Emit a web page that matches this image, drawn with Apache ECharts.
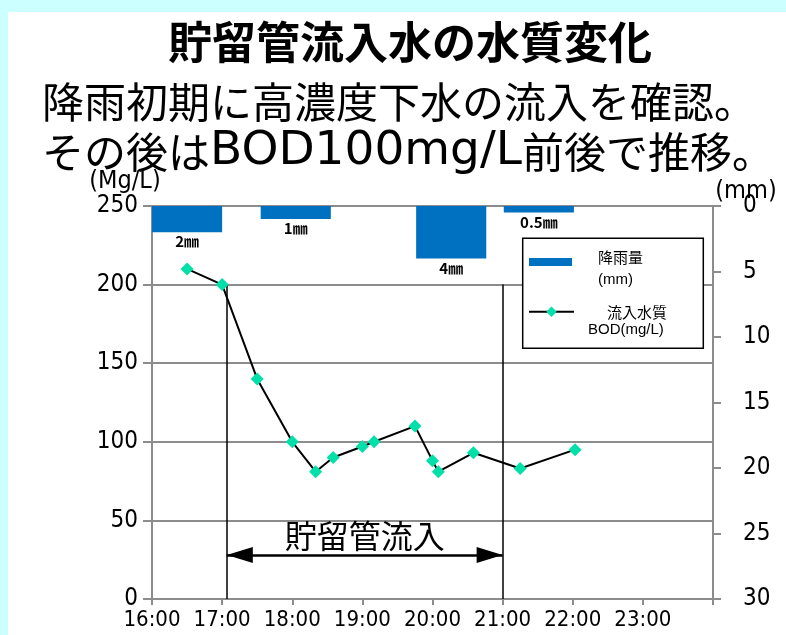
<!DOCTYPE html>
<html>
<head>
<meta charset="utf-8">
<script src="https://cdn.jsdelivr.net/npm/echarts@6/dist/echarts.min.js"></script>
<style>
  html, body { margin: 0; padding: 0; background: #fff; }
  #chart { width: 786px; height: 635px; }
</style>
</head>
<body>
<div id="chart"></div>
<script>
// Hour tick labels of the time axis (16:00 .. 23:00)
const timeTicks = ['16:00', '17:00', '18:00', '19:00', '20:00', '21:00', '22:00', '23:00'];

// Rainfall per hour block (centre time of each block, mm)
const rainTimes = ['16:30', '18:03', '20:16', '21:31'];
const rainMm = [2, 1, 4, 0.5];
const rainLabels = ['2㎜', '1㎜', '4㎜', '0.5㎜'];

// Inflow water quality, BOD (mg/L)
const bodTimes = ['16:30', '17:00', '17:30', '18:00', '18:20', '18:35', '19:00',
                  '19:10', '19:45', '20:00', '20:05', '20:35', '21:15', '22:02'];
const bodValues = [210, 200, 140, 100, 81, 90, 97, 100, 110, 88, 81, 93, 83, 95];

// Period during which water flowed into the storage pipe
const inflowPeriod = ['17:04', '21:00'];
const inflowLabel = '貯留管流入';

const toHours = t => { const [h, m] = t.split(':').map(Number); return h + m / 60; };

const CJK = "'Noto Sans CJK JP', sans-serif";
const NUM = "'DejaVu Sans Condensed', 'DejaVu Sans', sans-serif";
const LAT = "'Liberation Sans', Arial, sans-serif";
const GREY = '#8c8c8c';
const BLUE = '#0070c0';

const rainData = rainTimes.map((t, i) => [toHours(t), rainMm[i]]);
const bodData = bodTimes.map((t, i) => [toHours(t), bodValues[i]]);
const tStart = toHours(inflowPeriod[0]);
const tEnd = toHours(inflowPeriod[1]);

const chart = echarts.init(document.getElementById('chart'));

const option = {
  backgroundColor: '#fff',
  animation: false,
  textStyle: { fontFamily: NUM },
  title: [
    {
      text: '貯留管流入水の水質変化',
      left: 168, top: 20, padding: 0,
      textStyle: { fontFamily: CJK, fontSize: 44, fontWeight: 'bold', lineHeight: 44, color: '#000' }
    },
    {
      text: '降雨初期に高濃度下水の流入を確認。\nその後は{l|BOD100mg/L}前後で推移。',
      left: 42, top: 77, padding: 0,
      textStyle: {
        fontFamily: CJK, fontSize: 42, fontWeight: 'normal', lineHeight: 50, color: '#000',
        rich: { l: { fontFamily: "'DejaVu Sans', sans-serif", fontSize: 47, lineHeight: 50, color: '#000' } }
      }
    }
  ],
  grid: { left: 152, right: 73, top: 206, bottom: 36 },
  xAxis: {
    type: 'value', min: 16, max: 24, interval: 1,
    axisLine: { lineStyle: { color: GREY, width: 2 } },
    axisTick: { show: true, length: 6, lineStyle: { color: GREY, width: 2 } },
    splitLine: { show: false },
    axisLabel: {
      color: '#000', fontSize: 22, margin: 10, fontFamily: NUM,
      formatter: v => timeTicks[Math.round(v) - 16] || ''
    }
  },
  yAxis: [
    {
      type: 'value', min: 0, max: 250, interval: 50,
      name: '(Mg/L)', nameLocation: 'end', nameGap: 10,
      nameTextStyle: { color: '#000', fontSize: 25, fontFamily: NUM, padding: [0, 54, 0, 0] },
      axisLine: { show: true, lineStyle: { color: GREY, width: 2 } },
      axisTick: { show: true, length: 9, lineStyle: { color: GREY, width: 2 } },
      splitLine: { show: true, lineStyle: { color: GREY, width: 2 } },
      axisLabel: { color: '#000', fontSize: 24, margin: 14, fontFamily: NUM }
    },
    {
      type: 'value', position: 'right', min: 0, max: 30, interval: 5, inverse: true,
      name: '(mm)', nameLocation: 'start', nameGap: 15, nameMoveOverlap: false,
      nameTextStyle: { color: '#000', fontSize: 25, fontFamily: NUM, verticalAlign: 'middle',
                       padding: [0, 0, 0, 66] },
      axisLine: { show: true, lineStyle: { color: GREY, width: 2 } },
      axisTick: { show: true, length: 8, lineStyle: { color: GREY, width: 2 } },
      splitLine: { show: false },
      axisLabel: { color: '#000', fontSize: 24, margin: 30, fontFamily: NUM }
    }
  ],
  legend: [
    {
      data: [{ name: '降雨量', icon: 'rect' }],
      left: 529, top: 249.5, padding: 0, itemWidth: 43, itemHeight: 8,
      selectedMode: false, z: 6,
      formatter: name => '{a|' + name + '}\n{b|(mm)}',
      textStyle: {
        padding: [13, 0, 0, 0],
        rich: {
          a: { fontFamily: CJK, fontSize: 15, lineHeight: 23, align: 'left', padding: [0, 0, 0, 21], color: '#000' },
          b: { fontFamily: LAT, fontSize: 15, lineHeight: 23, align: 'left', padding: [0, 0, 0, 21], color: '#000' }
        }
      }
    },
    {
      data: [{ name: '流入水質' }],
      left: 528, top: 304.3, padding: 0, itemWidth: 45, itemHeight: 13,
      selectedMode: false, z: 6,
      formatter: name => '{a|' + name + '}\n{b|BOD(mg/L)}',
      textStyle: {
        padding: [18, 0, 0, 0],
        rich: {
          a: { fontFamily: CJK, fontSize: 15, lineHeight: 18, align: 'left', padding: [0, 0, 0, 28], color: '#000' },
          b: { fontFamily: LAT, fontSize: 15, lineHeight: 18, align: 'left', padding: [0, 0, 0, 9], color: '#000' }
        }
      }
    }
  ],
  graphic: [
    // light cyan frame along the top and left edges
    { type: 'rect', z: 10, shape: { x: 0, y: 0, width: 786, height: 12 }, style: { fill: '#ccffff' } },
    { type: 'rect', z: 10, shape: { x: 0, y: 0, width: 8, height: 635 }, style: { fill: '#ccffff' } },
    // legend frame
    { type: 'rect', z: 3, shape: { x: 522.7, y: 238.3, width: 180.6, height: 110 },
      style: { fill: '#fff', stroke: '#000', lineWidth: 1.5 } }
  ],
  series: [
    {
      name: '降雨量', type: 'custom', yAxisIndex: 1,
      itemStyle: { color: BLUE },
      data: rainData,
      encode: { x: 0, y: 1 },
      renderItem: (params, api) => {
        const c = api.value(0), v = api.value(1);
        const a = api.coord([c - 0.5, 0]);
        const b = api.coord([c + 0.5, v]);
        return {
          type: 'group',
          children: [
            { type: 'rect', shape: { x: a[0], y: a[1], width: b[0] - a[0], height: b[1] - a[1] },
              style: { fill: BLUE } },
            { type: 'text',
              style: { text: rainLabels[params.dataIndex], x: (a[0] + b[0]) / 2, y: b[1] + 2,
                       align: 'center', verticalAlign: 'top',
                       fontFamily: CJK, fontSize: 15, fontWeight: 'bold', fill: '#000' } }
          ]
        };
      }
    },
    {
      name: '流入水質', type: 'line', yAxisIndex: 0, z: 5,
      data: bodData,
      symbol: 'diamond', symbolSize: 13,
      lineStyle: { color: '#000', width: 2 },
      itemStyle: { color: '#00e0a8' },
      markLine: {
        silent: true, symbol: 'none', animation: false,
        lineStyle: { color: '#000', width: 1.5, type: 'solid' },
        label: { show: false },
        data: [
          [{ coord: [tStart, 200] }, { coord: [tStart, 0] }],
          [{ coord: [tEnd, 200] }, { coord: [tEnd, 0] }],
          [
            { coord: [tStart, 28], symbol: 'triangle', symbolSize: [16, 26], symbolOffset: [0, 13],
              lineStyle: { color: '#000', width: 2.5 },
              label: { show: true, position: 'middle', formatter: inflowLabel, distance: 3,
                       fontFamily: CJK, fontSize: 32, color: '#000' } },
            { coord: [tEnd, 28], symbol: 'triangle', symbolSize: [16, 26], symbolOffset: [0, 13] }
          ]
        ]
      }
    }
  ]
};

chart.setOption(option);
</script>
</body>
</html>
